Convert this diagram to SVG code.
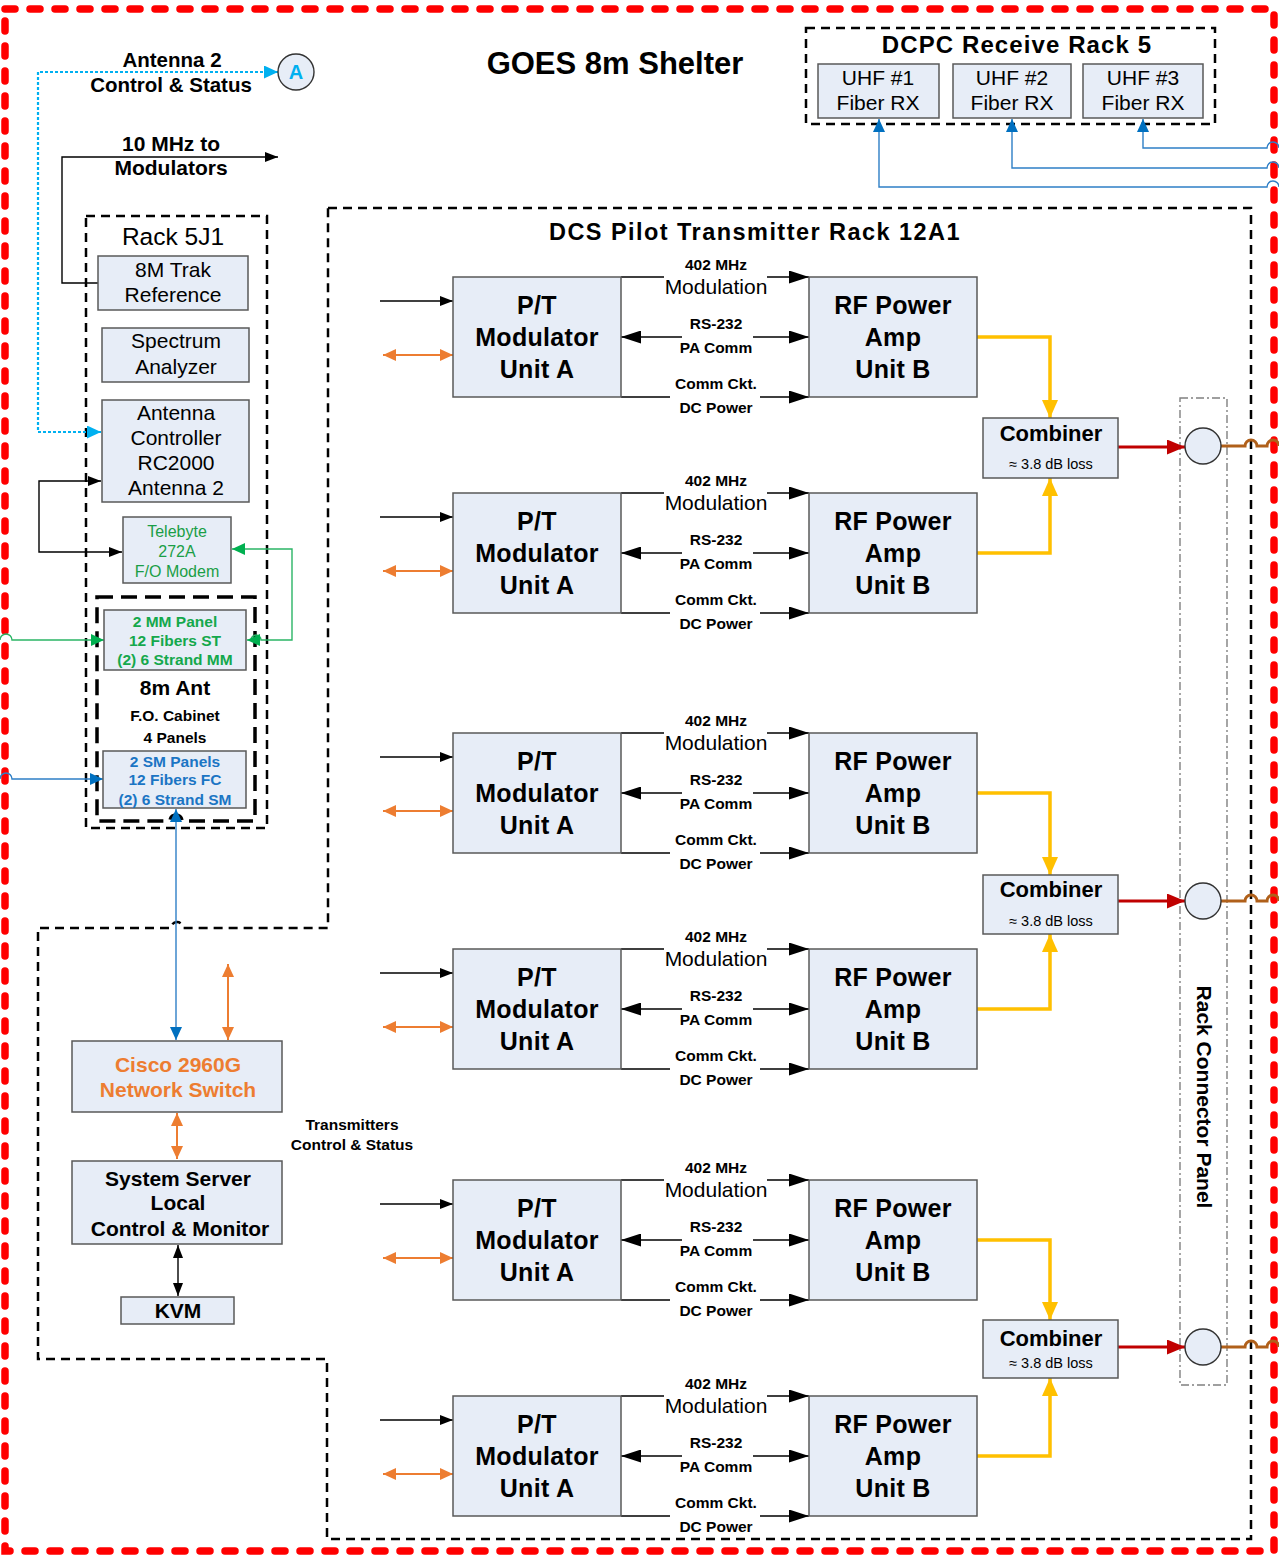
<svg xmlns="http://www.w3.org/2000/svg" width="1279" height="1559" viewBox="0 0 1279 1559">
<style>
text { font-family: "Liberation Sans", Arial, Helvetica, sans-serif; text-anchor: middle; fill: #000; }
.b { font-weight: bold; }
.box { fill: #e7edf7; stroke: #595959; stroke-width: 1.5; }
.t25 { font-size: 25px; font-weight: bold; letter-spacing: 0.3px; }
.t21 { font-size: 21px; }
.t20b { font-size: 20.5px; font-weight: bold; }
.t15 { font-size: 15.5px; font-weight: bold; }
.ln { fill: none; stroke: #000; stroke-width: 1.4; }
.or { fill: none; stroke: #ed7d31; stroke-width: 2; }
.ye { fill: none; stroke: #ffc000; stroke-width: 3.5; }
.rd { fill: none; stroke: #c00000; stroke-width: 3; }
.br { fill: none; stroke: #b0601a; stroke-width: 3; }
.bl { fill: none; stroke: #2e7fc6; stroke-width: 1.4; }
.gr { fill: none; stroke: #2bb566; stroke-width: 1.4; }
.cy { fill: none; stroke: #00b0f0; stroke-width: 2.2; stroke-dasharray: 3 2; }
.dash { fill: none; stroke: #000; stroke-width: 2.5; stroke-dasharray: 9 6; }
.circ { fill: #e7edf7; stroke: #333; stroke-width: 1.4; }
</style>
<defs>
<marker id="mBk" viewBox="0 0 10 10" refX="10" refY="5" markerUnits="userSpaceOnUse" markerWidth="13" markerHeight="10" orient="auto-start-reverse" preserveAspectRatio="none"><path d="M0,0 L10,5 L0,10 z" fill="#000"/></marker>
<marker id="mBkL" viewBox="0 0 10 10" refX="10" refY="5" markerUnits="userSpaceOnUse" markerWidth="20" markerHeight="13" orient="auto-start-reverse" preserveAspectRatio="none"><path d="M0,0 L10,5 L0,10 z" fill="#000"/></marker>
<marker id="mOr" viewBox="0 0 10 10" refX="10" refY="5" markerUnits="userSpaceOnUse" markerWidth="13" markerHeight="12" orient="auto-start-reverse" preserveAspectRatio="none"><path d="M0,0 L10,5 L0,10 z" fill="#ed7d31"/></marker>
<marker id="mYe" viewBox="0 0 10 10" refX="10" refY="5" markerUnits="userSpaceOnUse" markerWidth="18" markerHeight="16" orient="auto-start-reverse" preserveAspectRatio="none"><path d="M0,0 L10,5 L0,10 z" fill="#ffc000"/></marker>
<marker id="mRd" viewBox="0 0 10 10" refX="10" refY="5" markerUnits="userSpaceOnUse" markerWidth="18" markerHeight="15" orient="auto-start-reverse" preserveAspectRatio="none"><path d="M0,0 L10,5 L0,10 z" fill="#c00000"/></marker>
<marker id="mBl" viewBox="0 0 10 10" refX="10" refY="5" markerUnits="userSpaceOnUse" markerWidth="13" markerHeight="12" orient="auto-start-reverse" preserveAspectRatio="none"><path d="M0,0 L10,5 L0,10 z" fill="#0070c0"/></marker>
<marker id="mGr" viewBox="0 0 10 10" refX="10" refY="5" markerUnits="userSpaceOnUse" markerWidth="13" markerHeight="12" orient="auto-start-reverse" preserveAspectRatio="none"><path d="M0,0 L10,5 L0,10 z" fill="#00b050"/></marker>
<marker id="mCy" viewBox="0 0 10 10" refX="10" refY="5" markerUnits="userSpaceOnUse" markerWidth="14" markerHeight="13" orient="auto-start-reverse" preserveAspectRatio="none"><path d="M0,0 L10,5 L0,10 z" fill="#00b0f0"/></marker>
</defs>

<!-- outer boundary -->
<rect id="outer-border" x="5" y="9" width="1269" height="1542" fill="none" stroke="#ff0000" stroke-width="7.5" stroke-dasharray="10 15" stroke-linecap="round"/>

<!-- shelter / rack outlines -->
<g id="enclosures">
<path class="dash" d="M328,208 H1251 V1539 H327 V1359 H38 V928 H171 a6,6 0 0 1 12,0 H328 Z"/>
<rect class="dash" x="806" y="28" width="409" height="96"/>
<rect class="dash" x="86" y="216" width="181" height="612" stroke-dasharray="8 5"/>
<path d="M97,597 H255 V821 H182 a6,6 0 0 0 -12,0 H97 Z" fill="none" stroke="#000" stroke-width="3.5" stroke-dasharray="16 8"/>
<rect x="1180" y="398" width="47" height="987" fill="none" stroke="#808080" stroke-width="1.4" stroke-dasharray="8 3 2 3"/>
</g>

<!-- titles -->
<g id="titles">
<text class="b" x="615" y="74" font-size="31">GOES 8m Shelter</text>
<text class="b" x="755" y="240" font-size="23.5" letter-spacing="1.45">DCS Pilot Transmitter Rack 12A1</text>
<text class="b" x="1017" y="53" font-size="24" letter-spacing="1.1">DCPC Receive Rack 5</text>
<text x="173" y="245" font-size="24.5">Rack 5J1</text>
<text class="b" x="172" y="67" font-size="20.5">Antenna 2</text>
<text class="b" x="171" y="92" font-size="20.5">Control &amp; Status</text>
<text class="b" x="171" y="151" font-size="21">10 MHz to</text>
<text class="b" x="171" y="175" font-size="21">Modulators</text>
<text class="b" x="352" y="1130" font-size="15.5">Transmitters</text>
<text class="b" x="352" y="1150" font-size="15.5">Control &amp; Status</text>
<text class="b" font-size="21" transform="translate(1197,1097) rotate(90)">Rack Connector  Panel</text>
</g>

<!-- connectors -->
<g id="connectors">
<path class="cy" d="M278,72 H38 V432 H101" marker-start="url(#mCy)" marker-end="url(#mCy)"/>
<path class="ln" d="M98,283 H62 V157 H278" marker-end="url(#mBk)"/>
<path class="ln" d="M101,481 H39 V552 H122" marker-start="url(#mBk)" marker-end="url(#mBk)"/>
<path class="gr" d="M232,549 H292 V640 H261 a5,5 0 0 0 -10,0 H247" marker-start="url(#mGr)" marker-end="url(#mGr)"/>
<path class="gr" d="M0,640 a6,6 0 0 1 12,0 H104" marker-end="url(#mGr)"/>
<path class="bl" d="M0,779 a6,6 0 0 1 12,0 H103" marker-end="url(#mBl)"/>
<path class="bl" d="M176,1040 V809" marker-start="url(#mBl)" marker-end="url(#mBl)"/>
<path class="or" d="M228,964 V1040" marker-start="url(#mOr)" marker-end="url(#mOr)"/>
<path class="or" d="M177,1113 V1159" marker-start="url(#mOr)" marker-end="url(#mOr)"/>
<path class="ln" d="M178,1245 V1296" marker-start="url(#mBk)" marker-end="url(#mBk)"/>
<path class="bl" d="M1279,187 a6,6 0 0 0 -12,0 H879 V119" marker-end="url(#mBl)"/>
<path class="bl" d="M1279,168 a6,6 0 0 0 -12,0 H1012 V119" marker-end="url(#mBl)"/>
<path class="bl" d="M1279,148 a6,6 0 0 0 -12,0 H1143 V119" marker-end="url(#mBl)"/>

<path class="ln" d="M380,301 H453" marker-end="url(#mBk)"/>
<path class="or" d="M383,355 H453" marker-start="url(#mOr)" marker-end="url(#mOr)"/>
<path class="ln" d="M621,277 H664 M767,277 H809" marker-end="url(#mBkL)"/>
<path class="ln" d="M682,337 H621" marker-end="url(#mBkL)"/>
<path class="ln" d="M753,337 H809" marker-end="url(#mBkL)"/>
<path class="ln" d="M621,397 H670 M760,397 H809" marker-end="url(#mBkL)"/>

<path class="ln" d="M380,517 H453" marker-end="url(#mBk)"/>
<path class="or" d="M383,571 H453" marker-start="url(#mOr)" marker-end="url(#mOr)"/>
<path class="ln" d="M621,493 H664 M767,493 H809" marker-end="url(#mBkL)"/>
<path class="ln" d="M682,553 H621" marker-end="url(#mBkL)"/>
<path class="ln" d="M753,553 H809" marker-end="url(#mBkL)"/>
<path class="ln" d="M621,613 H670 M760,613 H809" marker-end="url(#mBkL)"/>

<path class="ln" d="M380,757 H453" marker-end="url(#mBk)"/>
<path class="or" d="M383,811 H453" marker-start="url(#mOr)" marker-end="url(#mOr)"/>
<path class="ln" d="M621,733 H664 M767,733 H809" marker-end="url(#mBkL)"/>
<path class="ln" d="M682,793 H621" marker-end="url(#mBkL)"/>
<path class="ln" d="M753,793 H809" marker-end="url(#mBkL)"/>
<path class="ln" d="M621,853 H670 M760,853 H809" marker-end="url(#mBkL)"/>

<path class="ln" d="M380,973 H453" marker-end="url(#mBk)"/>
<path class="or" d="M383,1027 H453" marker-start="url(#mOr)" marker-end="url(#mOr)"/>
<path class="ln" d="M621,949 H664 M767,949 H809" marker-end="url(#mBkL)"/>
<path class="ln" d="M682,1009 H621" marker-end="url(#mBkL)"/>
<path class="ln" d="M753,1009 H809" marker-end="url(#mBkL)"/>
<path class="ln" d="M621,1069 H670 M760,1069 H809" marker-end="url(#mBkL)"/>

<path class="ln" d="M380,1204 H453" marker-end="url(#mBk)"/>
<path class="or" d="M383,1258 H453" marker-start="url(#mOr)" marker-end="url(#mOr)"/>
<path class="ln" d="M621,1180 H664 M767,1180 H809" marker-end="url(#mBkL)"/>
<path class="ln" d="M682,1240 H621" marker-end="url(#mBkL)"/>
<path class="ln" d="M753,1240 H809" marker-end="url(#mBkL)"/>
<path class="ln" d="M621,1300 H670 M760,1300 H809" marker-end="url(#mBkL)"/>

<path class="ln" d="M380,1420 H453" marker-end="url(#mBk)"/>
<path class="or" d="M383,1474 H453" marker-start="url(#mOr)" marker-end="url(#mOr)"/>
<path class="ln" d="M621,1396 H664 M767,1396 H809" marker-end="url(#mBkL)"/>
<path class="ln" d="M682,1456 H621" marker-end="url(#mBkL)"/>
<path class="ln" d="M753,1456 H809" marker-end="url(#mBkL)"/>
<path class="ln" d="M621,1516 H670 M760,1516 H809" marker-end="url(#mBkL)"/>

<path class="ye" d="M977,337 H1050 V418" marker-end="url(#mYe)"/>
<path class="ye" d="M977,553 H1050 V478" marker-end="url(#mYe)"/>
<path class="ye" d="M977,793 H1050 V875" marker-end="url(#mYe)"/>
<path class="ye" d="M977,1009 H1050 V934" marker-end="url(#mYe)"/>
<path class="ye" d="M977,1240 H1050 V1320" marker-end="url(#mYe)"/>
<path class="ye" d="M977,1456 H1050 V1378" marker-end="url(#mYe)"/>
<path class="rd" d="M1118,447 H1185" marker-end="url(#mRd)"/>
<path class="rd" d="M1118,901 H1185" marker-end="url(#mRd)"/>
<path class="rd" d="M1118,1347 H1185" marker-end="url(#mRd)"/>
<path class="br" d="M1221,446 H1245 a6,6 0 0 1 12,0 H1267 a6,6 0 0 1 12,0"/>
<path class="br" d="M1221,901 H1245 a6,6 0 0 1 12,0 H1267 a6,6 0 0 1 12,0"/>
<path class="br" d="M1221,1347 H1245 a6,6 0 0 1 12,0 H1267 a6,6 0 0 1 12,0"/>
</g>

<!-- connector labels -->
<g id="connector-labels">
<g id="lbl1"><text class="t15" x="716" y="270">402 MHz</text><text class="t21" x="716" y="293.5">Modulation</text><text class="t15" x="716" y="329">RS-232</text><text class="t15" x="716" y="353">PA Comm</text><text class="t15" x="716" y="389">Comm Ckt.</text><text class="t15" x="716" y="413">DC Power</text></g>
<g id="lbl2"><text class="t15" x="716" y="486">402 MHz</text><text class="t21" x="716" y="509.5">Modulation</text><text class="t15" x="716" y="545">RS-232</text><text class="t15" x="716" y="569">PA Comm</text><text class="t15" x="716" y="605">Comm Ckt.</text><text class="t15" x="716" y="629">DC Power</text></g>
<g id="lbl3"><text class="t15" x="716" y="726">402 MHz</text><text class="t21" x="716" y="749.5">Modulation</text><text class="t15" x="716" y="785">RS-232</text><text class="t15" x="716" y="809">PA Comm</text><text class="t15" x="716" y="845">Comm Ckt.</text><text class="t15" x="716" y="869">DC Power</text></g>
<g id="lbl4"><text class="t15" x="716" y="942">402 MHz</text><text class="t21" x="716" y="965.5">Modulation</text><text class="t15" x="716" y="1001">RS-232</text><text class="t15" x="716" y="1025">PA Comm</text><text class="t15" x="716" y="1061">Comm Ckt.</text><text class="t15" x="716" y="1085">DC Power</text></g>
<g id="lbl5"><text class="t15" x="716" y="1173">402 MHz</text><text class="t21" x="716" y="1196.5">Modulation</text><text class="t15" x="716" y="1232">RS-232</text><text class="t15" x="716" y="1256">PA Comm</text><text class="t15" x="716" y="1292">Comm Ckt.</text><text class="t15" x="716" y="1316">DC Power</text></g>
<g id="lbl6"><text class="t15" x="716" y="1389">402 MHz</text><text class="t21" x="716" y="1412.5">Modulation</text><text class="t15" x="716" y="1448">RS-232</text><text class="t15" x="716" y="1472">PA Comm</text><text class="t15" x="716" y="1508">Comm Ckt.</text><text class="t15" x="716" y="1532">DC Power</text></g>
</g>

<!-- nodes -->
<g id="circle-A"><circle class="circ" cx="296" cy="72" r="18"/><text class="b" x="296" y="79" font-size="20" style="fill:#00b0f0">A</text></g>

<g id="uhf1"><rect class="box" x="818" y="64" width="121" height="54"/><text class="t21" x="878" y="85">UHF #1</text><text class="t21" x="878" y="110">Fiber RX</text></g>
<g id="uhf2"><rect class="box" x="953" y="64" width="118" height="54"/><text class="t21" x="1012" y="85">UHF #2</text><text class="t21" x="1012" y="110">Fiber RX</text></g>
<g id="uhf3"><rect class="box" x="1083" y="64" width="120" height="54"/><text class="t21" x="1143" y="85">UHF #3</text><text class="t21" x="1143" y="110">Fiber RX</text></g>

<g id="trak"><rect class="box" x="98" y="256" width="150" height="54"/><text class="t21" x="173" y="277">8M Trak</text><text class="t21" x="173" y="302">Reference</text></g>
<g id="spectrum"><rect class="box" x="102" y="328" width="147" height="54"/><text class="t21" x="176" y="348">Spectrum</text><text class="t21" x="176" y="374">Analyzer</text></g>
<g id="ant-ctrl"><rect class="box" x="102" y="400" width="147" height="102"/><text class="t21" x="176" y="420">Antenna</text><text class="t21" x="176" y="445">Controller</text><text class="t21" x="176" y="470">RC2000</text><text class="t21" x="176" y="495">Antenna 2</text></g>
<g id="telebyte"><rect class="box" x="123" y="517" width="108" height="66"/><text x="177" y="537" font-size="16" style="fill:#1a9e46">Telebyte</text><text x="177" y="557" font-size="16" style="fill:#1a9e46">272A</text><text x="177" y="577" font-size="16" style="fill:#1a9e46">F/O Modem</text></g>

<g id="fo-cabinet">
<text class="b" x="175" y="695" font-size="21">8m Ant</text>
<text class="t15" x="175" y="721">F.O. Cabinet</text>
<text class="t15" x="175" y="743">4 Panels</text>
</g>
<g id="mm-panel"><rect class="box" x="104" y="610" width="142" height="60"/><text class="t15" x="175" y="627" style="fill:#14a84c">2 MM Panel</text><text class="t15" x="175" y="646" style="fill:#14a84c">12 Fibers ST</text><text class="t15" x="175" y="665" style="fill:#14a84c">(2) 6 Strand MM</text></g>
<g id="sm-panel"><rect class="box" x="103" y="751" width="143" height="57"/><text class="t15" x="175" y="767" style="fill:#1b75c4">2 SM Panels</text><text class="t15" x="175" y="785" style="fill:#1b75c4">12 Fibers FC</text><text class="t15" x="175" y="805" style="fill:#1b75c4">(2) 6 Strand SM</text></g>

<g id="cisco"><rect class="box" x="72" y="1041" width="210" height="71"/><text class="b" x="178" y="1072" font-size="21" style="fill:#ed7d31">Cisco 2960G</text><text class="b" x="178" y="1097" font-size="21" style="fill:#ed7d31">Network Switch</text></g>
<g id="server"><rect class="box" x="72" y="1161" width="210" height="83"/><text class="b" x="178" y="1186" font-size="21">System Server</text><text class="b" x="178" y="1210" font-size="21">Local</text><text class="b" x="180" y="1236" font-size="21">Control &amp; Monitor</text></g>
<g id="kvm"><rect class="box" x="121" y="1297" width="113" height="27"/><text class="b" x="178" y="1318" font-size="21">KVM</text></g>

<g id="pt1"><rect class="box" x="453" y="277" width="168" height="120"/><text class="t25" x="537" y="314">P/T</text><text class="t25" x="537" y="346">Modulator</text><text class="t25" x="537" y="378">Unit A</text></g>
<g id="rf1"><rect class="box" x="809" y="277" width="168" height="120"/><text class="t25" x="893" y="314">RF Power</text><text class="t25" x="893" y="346">Amp</text><text class="t25" x="893" y="378">Unit B</text></g>
<g id="pt2"><rect class="box" x="453" y="493" width="168" height="120"/><text class="t25" x="537" y="530">P/T</text><text class="t25" x="537" y="562">Modulator</text><text class="t25" x="537" y="594">Unit A</text></g>
<g id="rf2"><rect class="box" x="809" y="493" width="168" height="120"/><text class="t25" x="893" y="530">RF Power</text><text class="t25" x="893" y="562">Amp</text><text class="t25" x="893" y="594">Unit B</text></g>
<g id="pt3"><rect class="box" x="453" y="733" width="168" height="120"/><text class="t25" x="537" y="770">P/T</text><text class="t25" x="537" y="802">Modulator</text><text class="t25" x="537" y="834">Unit A</text></g>
<g id="rf3"><rect class="box" x="809" y="733" width="168" height="120"/><text class="t25" x="893" y="770">RF Power</text><text class="t25" x="893" y="802">Amp</text><text class="t25" x="893" y="834">Unit B</text></g>
<g id="pt4"><rect class="box" x="453" y="949" width="168" height="120"/><text class="t25" x="537" y="986">P/T</text><text class="t25" x="537" y="1018">Modulator</text><text class="t25" x="537" y="1050">Unit A</text></g>
<g id="rf4"><rect class="box" x="809" y="949" width="168" height="120"/><text class="t25" x="893" y="986">RF Power</text><text class="t25" x="893" y="1018">Amp</text><text class="t25" x="893" y="1050">Unit B</text></g>
<g id="pt5"><rect class="box" x="453" y="1180" width="168" height="120"/><text class="t25" x="537" y="1217">P/T</text><text class="t25" x="537" y="1249">Modulator</text><text class="t25" x="537" y="1281">Unit A</text></g>
<g id="rf5"><rect class="box" x="809" y="1180" width="168" height="120"/><text class="t25" x="893" y="1217">RF Power</text><text class="t25" x="893" y="1249">Amp</text><text class="t25" x="893" y="1281">Unit B</text></g>
<g id="pt6"><rect class="box" x="453" y="1396" width="168" height="120"/><text class="t25" x="537" y="1433">P/T</text><text class="t25" x="537" y="1465">Modulator</text><text class="t25" x="537" y="1497">Unit A</text></g>
<g id="rf6"><rect class="box" x="809" y="1396" width="168" height="120"/><text class="t25" x="893" y="1433">RF Power</text><text class="t25" x="893" y="1465">Amp</text><text class="t25" x="893" y="1497">Unit B</text></g>

<g id="combiner1"><rect class="box" x="983" y="418" width="135" height="60"/><text class="b" x="1051" y="441" font-size="22">Combiner</text><text x="1051" y="469" font-size="14.5">≈ 3.8 dB loss</text></g>
<g id="combiner2"><rect class="box" x="983" y="875" width="135" height="59"/><text class="b" x="1051" y="897" font-size="22">Combiner</text><text x="1051" y="926" font-size="14.5">≈ 3.8 dB loss</text></g>
<g id="combiner3"><rect class="box" x="983" y="1320" width="135" height="58"/><text class="b" x="1051" y="1346" font-size="22">Combiner</text><text x="1051" y="1368" font-size="14.5">≈ 3.8 dB loss</text></g>

<g id="port1"><circle class="circ" cx="1203" cy="446" r="18"/></g>
<g id="port2"><circle class="circ" cx="1203" cy="901" r="18"/></g>
<g id="port3"><circle class="circ" cx="1203" cy="1347" r="18"/></g>
</svg>
